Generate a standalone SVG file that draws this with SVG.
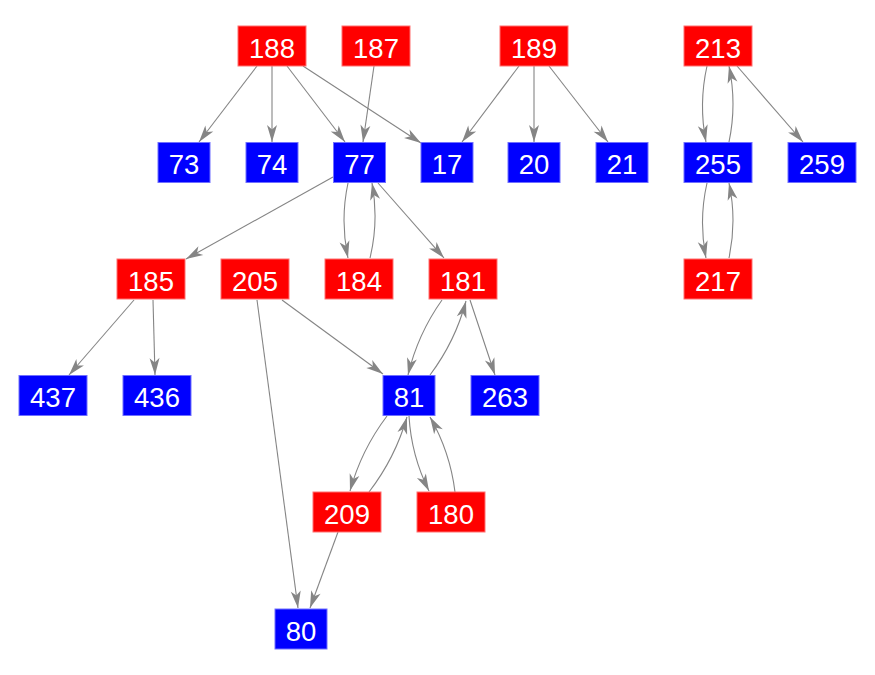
<svg xmlns="http://www.w3.org/2000/svg" width="875" height="675" viewBox="0 0 875 675">
<style>
.r{fill:#ff0000;stroke:#ff7070;stroke-width:1}
.b{fill:#0000ff;stroke:#7070ff;stroke-width:1}
text{font-family:"Liberation Sans",Arial,sans-serif;font-size:27.5px;fill:#ffffff;text-anchor:middle}
.e{fill:none;stroke:#858585;stroke-width:1.1;marker-end:url(#ah)}
</style>
<defs>
<marker id="ah" markerUnits="userSpaceOnUse" viewBox="-18 -6 19 12" markerWidth="19" markerHeight="12" refX="0" refY="0" orient="auto">
<path d="M0,0 L-17,-5 L-12.5,0 L-17,5 Z" fill="#858585"/>
</marker>
</defs>
<rect width="875" height="675" fill="#ffffff"/>
<g id="connectors">
<path class="e" d="M257,66 L199,142"/>
<path class="e" d="M272,66 L272,142"/>
<path class="e" d="M287,66 L345,142"/>
<path class="e" d="M303,66 L421,143"/>
<path class="e" d="M374,66 L363,142"/>
<path class="e" d="M519,66 L462,142"/>
<path class="e" d="M534,66 L534,142"/>
<path class="e" d="M549,66 L608,142"/>
<path class="e" d="M707,66 Q698.5,104 706,142"/>
<path class="e" d="M729,142 Q737,104 729,66"/>
<path class="e" d="M737,66 L803,142"/>
<path class="e" d="M707,183 Q698.5,220.5 706,258"/>
<path class="e" d="M729,258 Q737,220.5 729,183"/>
<path class="e" d="M333,177 L186,259"/>
<path class="e" d="M348,183 Q340,220.5 348,258"/>
<path class="e" d="M370,258 Q379,220.7 372,183"/>
<path class="e" d="M378,183 L444,258"/>
<path class="e" d="M134,300 L69,375"/>
<path class="e" d="M153,300 L155,375"/>
<path class="e" d="M282,300 L383,374"/>
<path class="e" d="M257,300 L298,608"/>
<path class="e" d="M442,300 Q417.7,334.2 408,375"/>
<path class="e" d="M430,375 Q455.2,341.5 466,301"/>
<path class="e" d="M470,300 L495,375"/>
<path class="e" d="M387,416 Q361.3,450 350,491"/>
<path class="e" d="M369,492 Q395.1,458.1 407,417"/>
<path class="e" d="M409,416 Q411.3,455.6 429,491"/>
<path class="e" d="M455,492 Q450.1,452 430,417"/>
<path class="e" d="M338,532 L310,608"/>
</g>
<g id="n188"><rect class="r" x="238" y="26" width="68" height="40"/><text x="272" y="57.5">188</text></g>
<g id="n187"><rect class="r" x="342" y="26" width="68" height="40"/><text x="376" y="57.5">187</text></g>
<g id="n189"><rect class="r" x="500" y="26" width="68" height="40"/><text x="534" y="57.5">189</text></g>
<g id="n213"><rect class="r" x="684" y="26" width="68" height="40"/><text x="718" y="57.5">213</text></g>
<g id="n73"><rect class="b" x="158" y="142.5" width="52" height="40"/><text x="184" y="174">73</text></g>
<g id="n74"><rect class="b" x="246" y="142.5" width="52" height="40"/><text x="272" y="174">74</text></g>
<g id="n77"><rect class="b" x="333.5" y="142.5" width="52" height="40"/><text x="359.5" y="174">77</text></g>
<g id="n17"><rect class="b" x="421" y="142.5" width="52" height="40"/><text x="447" y="174">17</text></g>
<g id="n20"><rect class="b" x="508" y="142.5" width="52" height="40"/><text x="534" y="174">20</text></g>
<g id="n21"><rect class="b" x="596" y="142.5" width="52" height="40"/><text x="622" y="174">21</text></g>
<g id="n255"><rect class="b" x="684" y="142.5" width="68" height="40"/><text x="718" y="174">255</text></g>
<g id="n259"><rect class="b" x="788" y="142.5" width="68" height="40"/><text x="822" y="174">259</text></g>
<g id="n185"><rect class="r" x="117" y="259" width="68" height="40"/><text x="151" y="290.5">185</text></g>
<g id="n205"><rect class="r" x="221" y="259" width="68" height="40"/><text x="255" y="290.5">205</text></g>
<g id="n184"><rect class="r" x="325" y="259" width="68" height="40"/><text x="359" y="290.5">184</text></g>
<g id="n181"><rect class="r" x="429" y="259" width="68" height="40"/><text x="463" y="290.5">181</text></g>
<g id="n217"><rect class="r" x="684" y="259" width="68" height="40"/><text x="718" y="290.5">217</text></g>
<g id="n437"><rect class="b" x="19" y="375.5" width="68" height="40"/><text x="53" y="407">437</text></g>
<g id="n436"><rect class="b" x="123" y="375.5" width="68" height="40"/><text x="157" y="407">436</text></g>
<g id="n81"><rect class="b" x="383" y="375.5" width="52" height="40"/><text x="409" y="407">81</text></g>
<g id="n263"><rect class="b" x="471" y="375.5" width="68" height="40"/><text x="505" y="407">263</text></g>
<g id="n209"><rect class="r" x="313" y="492" width="68" height="40"/><text x="347" y="523.5">209</text></g>
<g id="n180"><rect class="r" x="417" y="492" width="68" height="40"/><text x="451" y="523.5">180</text></g>
<g id="n80"><rect class="b" x="275" y="609" width="52" height="40"/><text x="301" y="640.5">80</text></g>
</svg>
